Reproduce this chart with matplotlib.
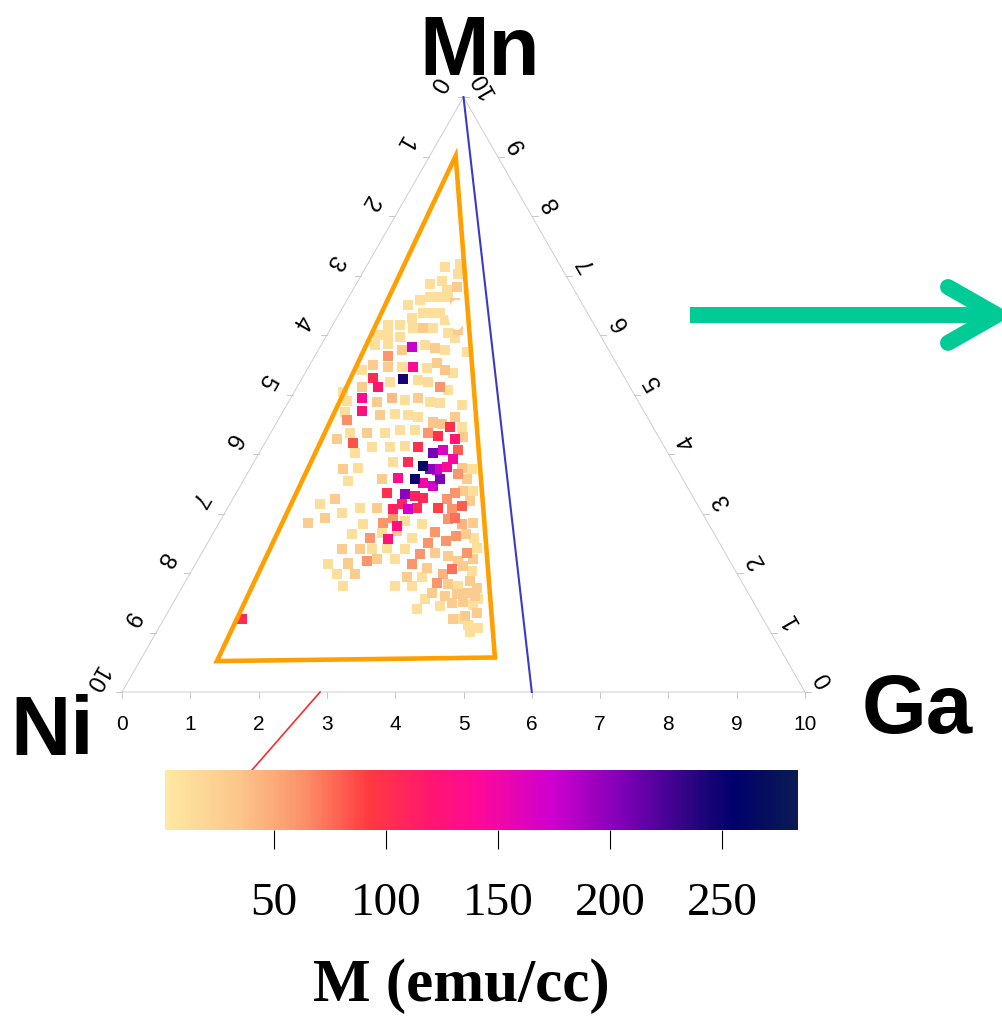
import numpy as np
import matplotlib
matplotlib.use("Agg")
import matplotlib.pyplot as plt
from matplotlib.colors import LinearSegmentedColormap, Normalize
from matplotlib.patches import Ellipse, Polygon
from matplotlib.lines import Line2D

# Film spots: Ga and Mn content on the 0-10 axis scale, M in emu/cc
ga = [1.15, 1.36, 1.41, 1.09, 1.24, 1.38, 1.51, 1.07, 0.93, 1.19,
      1.33, 1.45, 1.60, 1.10, 1.22, 1.37, 1.47, 1.60, 0.81, 0.98,
      1.20, 1.35, 1.49, 1.76, 1.88, 0.75, 0.89, 1.09, 1.90, 0.79,
      0.97, 1.35, 1.52, 1.69, 1.86, 2.19, 1.23, 1.07, 0.93, 1.16,
      1.37, 1.53, 1.74, 1.85, 2.02, 2.17, 0.81, 1.04, 1.19, 1.32,
      1.49, 1.71, 1.88, 2.09, 0.95, 0.72, 2.24, 1.04, 1.30, 1.48,
      1.69, 1.87, 2.07, 2.23, 2.57, 0.85, 1.15, 0.92, 1.01, 1.45,
      1.66, 1.86, 2.03, 2.57, 2.29, 2.43, 2.76, 2.58, 1.16, 1.41,
      1.67, 1.87, 2.09, 2.31, 2.47, 2.75, 2.85, 1.02, 1.29, 1.61,
      1.87, 2.07, 2.28, 2.54, 2.66, 2.89, 1.41, 2.03, 2.26, 2.51,
      2.63, 2.74, 2.86, 2.89, 3.09, 3.25, 1.36, 1.57, 2.02, 2.24,
      2.50, 2.65, 2.82, 2.86, 3.08, 3.26, 1.53, 2.21, 2.48, 2.64,
      2.78, 3.14, 3.20, 3.30, 3.45, 1.50, 1.32, 1.94, 2.19, 2.43,
      2.52, 2.65, 2.77, 3.08, 3.29, 3.41, 3.49, 1.72, 1.30, 1.51,
      2.12, 2.40, 2.51, 2.63, 2.71, 2.98, 3.32, 3.41, 3.57, 3.72,
      2.04, 2.34, 2.47, 2.61, 2.67, 2.95, 3.24, 3.48, 3.58, 3.71,
      3.86, 3.23, 2.02, 2.28, 2.46, 2.94, 3.99, 2.67, 1.94, 2.23,
      2.49, 2.62, 2.88, 3.21, 3.42, 3.63, 3.82, 3.88, 4.02, 3.17,
      3.94, 3.43, 3.71, 3.80, 4.11, 2.16, 2.42, 3.20, 3.42, 3.70,
      2.35, 3.11, 3.36, 3.87, 4.03, 4.17, 4.33, 3.71, 3.66, 3.93,
      4.09, 4.22, 4.37, 3.62, 3.94, 4.09, 4.23, 4.40, 4.43, 4.23,
      4.39, 4.54, 4.50, 4.67, 4.59, 4.31, 1.14]
mn = [7.15, 7.19, 7.02, 6.85, 6.90, 6.76, 6.80, 6.59, 6.51, 6.64,
      6.64, 6.64, 6.54, 6.29, 6.37, 6.37, 6.37, 6.26, 6.17, 6.17,
      6.12, 6.12, 6.12, 6.04, 6.09, 6.00, 6.00, 5.97, 5.95, 5.83,
      5.85, 5.80, 5.83, 5.78, 5.75, 5.71, 5.75, 5.65, 5.49, 5.46,
      5.46, 5.46, 5.44, 5.53, 5.41, 5.36, 5.41, 5.28, 5.12, 5.21,
      5.26, 5.24, 5.21, 5.12, 5.12, 5.04, 5.07, 4.95, 4.87, 4.95,
      4.90, 4.94, 4.87, 4.85, 4.82, 4.89, 4.73, 4.70, 4.57, 4.65,
      4.68, 4.65, 4.62, 4.62, 4.53, 4.51, 4.45, 4.45, 4.36, 4.35,
      4.36, 4.40, 4.40, 4.35, 4.31, 4.26, 4.28, 4.26, 4.19, 4.11,
      4.11, 4.14, 4.11, 4.02, 4.07, 4.06, 4.01, 3.87, 3.86, 3.80,
      3.75, 3.74, 3.79, 3.92, 3.77, 3.75, 3.75, 3.77, 3.58, 3.60,
      3.58, 3.52, 3.47, 3.58, 3.67, 3.58, 3.55, 3.35, 3.33, 3.30,
      3.26, 3.25, 3.35, 3.38, 3.38, 3.25, 3.16, 3.09, 3.09, 3.08,
      3.16, 3.08, 3.09, 3.09, 3.08, 3.13, 3.21, 3.01, 2.84, 2.93,
      2.82, 2.84, 2.93, 2.79, 2.87, 2.82, 2.91, 2.93, 2.82, 2.84,
      2.65, 2.59, 2.67, 2.57, 2.71, 2.59, 2.69, 2.54, 2.62, 2.65,
      2.59, 2.50, 2.40, 2.40, 2.40, 2.40, 2.42, 2.42, 2.15, 2.16,
      2.20, 2.23, 2.23, 2.32, 2.33, 2.28, 2.20, 2.33, 2.23, 2.15,
      2.11, 2.08, 1.98, 2.06, 2.03, 1.98, 1.98, 1.94, 1.94, 1.83,
      1.78, 1.78, 1.78, 1.81, 1.78, 1.86, 1.74, 1.66, 1.56, 1.61,
      1.64, 1.66, 1.61, 1.40, 1.44, 1.49, 1.52, 1.47, 1.56, 1.23,
      1.27, 1.32, 1.13, 1.07, 1.01, 1.22, 1.23]
moment = [12, 12, 12, 12, 12, 12, 30, 12, 12, 12,
          12, 12, 30, 12, 12, 12, 12, 12, 12, 12,
          12, 30, 12, 12, 30, 12, 12, 12, 12, 12,
          12, 175, 12, 30, 12, 12, 30, 60, 30, 30,
          12, 140, 12, 30, 35, 12, 12, 105, 120, 12,
          245, 12, 15, 60, 30, 12, 12, 140, 30, 40,
          12, 30, 12, 12, 12, 12, 125, 12, 65, 30,
          12, 12, 12, 30, 35, 35, 12, 100, 12, 30,
          12, 12, 12, 60, 100, 120, 30, 30, 85, 12,
          12, 12, 100, 210, 165, 80, 12, 12, 105, 265,
          200, 170, 140, 145, 35, 12, 30, 12, 30, 135,
          250, 150, 170, 205, 60, 30, 12, 100, 200, 110,
          105, 60, 60, 30, 12, 30, 12, 12, 30, 110,
          110, 170, 100, 90, 60, 80, 30, 12, 30, 30,
          12, 60, 60, 130, 12, 12, 60, 75, 45, 30,
          12, 60, 12, 125, 30, 12, 60, 60, 60, 30,
          12, 60, 30, 30, 12, 12, 12, 12, 12, 30,
          60, 30, 12, 60, 30, 30, 30, 60, 30, 60,
          30, 30, 45, 75, 12, 12, 30, 30, 12, 60,
          12, 12, 12, 30, 12, 30, 30, 30, 12, 30,
          30, 30, 30, 12, 12, 30, 30, 12, 12, 30,
          30, 30, 12, 12, 12, 12, 105]

tick_vals = list(range(11))
cbar_ticks = [50, 100, 150, 200, 250]

# orange outline and blue guide line, as (ga, mn) corners
sel_ga = [0.38, 1.13, 5.17]
sel_mn = [9.01, 0.52, 0.58]
blue_ga = [0.0, 6.0]
blue_mn = [10.0, 0.0]

SQ = np.sqrt(3) / 2


def to_xy(g, m):
    g = np.asarray(g, float)
    m = np.asarray(m, float)
    return g + m / 2, m * SQ


cmap = LinearSegmentedColormap.from_list("mag", [
    (0.00, "#fde9a2"), (0.12, "#fcc48a"), (0.22, "#fb9068"),
    (0.32, "#ff3b3f"), (0.42, "#ff1670"), (0.49, "#ff0a95"),
    (0.61, "#cf00cf"), (0.73, "#7a00b5"), (0.84, "#25057e"),
    (0.90, "#00006b"), (1.00, "#0b1b52")])
norm = Normalize(vmin=1.3, vmax=284)

fig = plt.figure(figsize=(10.02, 10.16), dpi=100)
ax = fig.add_axes([0, 0, 1, 1])
ax.set_xlim(-1.786, 12.884)
ax.set_ylim(-4.716, 10.073)
ax.axis("off")

# triangle frame
frame_x, frame_y = to_xy([0, 10, 0, 0], [0, 0, 10, 0])
ax.plot(frame_x, frame_y, color="#cfcfcf", lw=0.7, zorder=1)

sans = "Liberation Sans"
tl = 6 / 68.5
for k in tick_vals:
    # bottom (Ga)
    ax.plot([k, k], [0, -tl], color="#c8c8c8", lw=0.7)
    ax.text(k, -0.47, str(k), ha="center", va="center", fontsize=15, family=sans)
    # left (Ni), 0 at the Mn corner
    lx, ly = 5 - 0.5 * k, 8.66 - 0.866 * k
    ax.plot([lx, lx - tl], [ly, ly], color="#c8c8c8", lw=0.7)
    ax.text(lx - 0.39, ly + 0.20, str(k), ha="center", va="center", fontsize=17,
            family=sans, rotation=240)
    # right (Mn), 0 at the Ga corner
    rx, ry = 10 - 0.5 * k, 0.866 * k
    ax.plot([rx, rx + tl], [ry, ry], color="#c8c8c8", lw=0.7)
    ax.text(rx + 0.29, ry + 0.18, str(k), ha="center", va="center", fontsize=17,
            family=sans, rotation=120)

# data squares, larger M drawn on top
order = np.argsort(moment, kind="stable")
px, py = to_xy(np.array(ga)[order], np.array(mn)[order])
sc = ax.scatter(px, py, c=np.array(moment)[order], cmap=cmap, norm=norm,
                marker="s", s=52, linewidths=0, zorder=3)

ex, ey = to_xy(1.73, 6.34)
ax.add_patch(Ellipse((ex, ey), 0.25, 0.44, facecolor="white", edgecolor="none", zorder=4))

sx, sy = to_xy(sel_ga, sel_mn)
ax.add_patch(Polygon(np.column_stack([sx, sy]), closed=True, fill=False,
                     edgecolor="#ffa000", lw=3.3, joinstyle="miter", zorder=5))

bx, by = to_xy(blue_ga, blue_mn)
ax.plot(bx, by, color="#3a3ac8", lw=1.5, zorder=5)

ax.plot([2.9, 1.90], [0.0, -1.14], color="#ff2a2a", lw=1.2, zorder=2)

bold = dict(family=sans, fontweight="bold", fontsize=60)
ax.text(5.24, 8.98, "Mn", ha="center", va="baseline", **bold)
ax.text(-1.64, -0.917, "Ni", ha="left", va="baseline", **bold)
ax.text(10.83, -0.597, "Ga", ha="left", va="baseline", **bold)

# green arrow pointing out of the frame
green = "#00cb96"
fig.add_artist(Line2D([0.6886, 0.99], [0.69, 0.69], color=green, lw=11.5,
                      solid_capstyle="butt", transform=fig.transFigure))
fig.add_artist(Line2D([0.9461, 0.995, 0.9461], [0.7175, 0.69, 0.6625], color=green,
                      lw=11.5, solid_capstyle="round", solid_joinstyle="round",
                      transform=fig.transFigure))

# colour bar
cax = fig.add_axes([165 / 1002, (1016 - 830) / 1016, 633 / 1002, 60 / 1016])
cb = fig.colorbar(sc, cax=cax, orientation="horizontal", ticks=cbar_ticks)
cb.outline.set_visible(False)
cax.tick_params(axis="x", direction="out", length=14, width=0.8, pad=24,
                labelsize=34, colors="black")
for lab in cax.get_xticklabels():
    lab.set_family("Liberation Serif")
fig.text(461 / 1002, (1016 - 1001) / 1016, "M (emu/cc)", ha="center", va="baseline",
         family="Liberation Serif", fontweight="bold", fontsize=44)

fig.savefig("out.png", dpi=100)
